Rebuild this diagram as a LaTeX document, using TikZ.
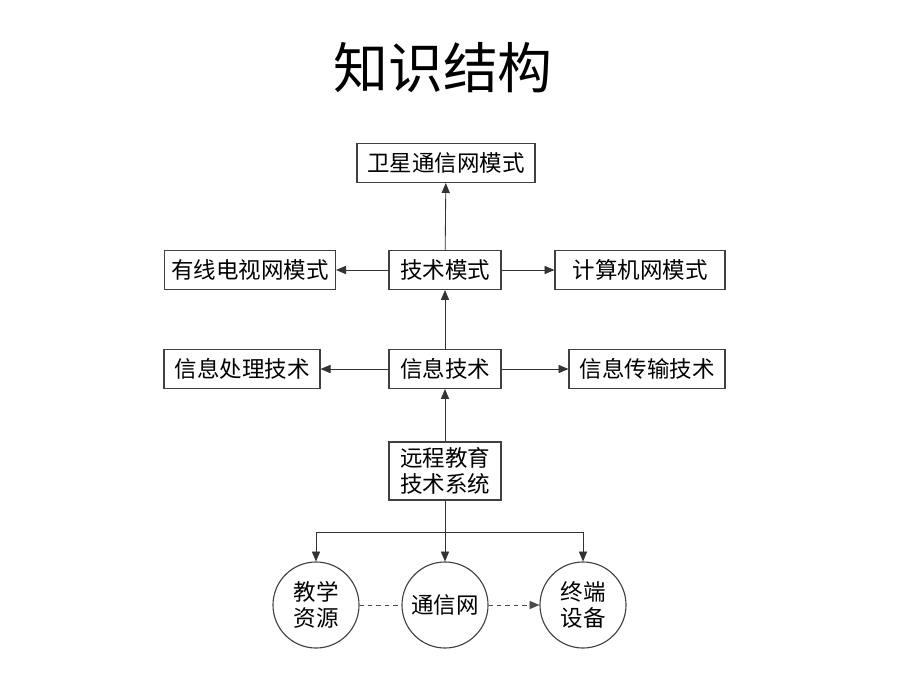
\documentclass[tikz,border=0pt]{standalone}
\usepackage{fontspec}
\setmainfont{Noto Sans CJK SC}
\usetikzlibrary{arrows}
\tikzset{
    box/.style={rectangle, draw=black!75, thick, minimum height=0.975cm, inner sep=0pt, font=\fontsize{16}{19}\selectfont},
    disc/.style={circle, draw=black!75, thick, minimum size=2.15cm, inner sep=0pt, align=center, font=\fontsize{16}{19}\selectfont},
    link/.style={draw=black!80, semithick, -triangle 45},
    flow/.style={draw=black!70, semithick, dashed}
}

\begin{document}
\begin{tikzpicture}
  [
    x = 0.025cm,
    y = -0.025cm,
  ]
  \useasboundingbox (0,0) rectangle (920,690);
  \node (title) at (443,68) {\fontsize{39}{44}\selectfont 知识结构};
  % boxes
  \node [box, minimum width=4.45cm]  (sat)   at (446,163) {卫星通信网模式};
  \node [box, minimum width=4.275cm] (cable) at (250,270) {有线电视网模式};
  \node [box, minimum width=2.8cm]   (mode)  at (445,270) {技术模式};
  \node [box, minimum width=4.25cm]  (comp)  at (640,270) {计算机网模式};
  \node [box, minimum width=3.9cm]   (proc)  at (242,369) {信息处理技术};
  \node [box, minimum width=2.8cm]   (info)  at (445,369) {信息技术};
  \node [box, minimum width=3.9cm]   (trans) at (647,369) {信息传输技术};
  \node [box, minimum width=2.8cm, minimum height=1.45cm, align=center] (sys) at (445,471) {远程教育\\技术系统};
  % circles
  \node [disc] (res)  at (316,605) {教学\\资源};
  \node [disc] (net)  at (445,605) {通信网};
  \node [disc] (term) at (583,605) {终端\\设备};
  \coordinate (fork) at (445,532);
  % connectors
  \draw [link] (mode) -- (sat);
  \draw [link] (mode) -- (cable);
  \draw [link] (mode) -- (comp);
  \draw [link] (info) -- (mode);
  \draw [link] (info) -- (proc);
  \draw [link] (info) -- (trans);
  \draw [link] (sys) -- (info);
  \draw [link] (sys) -- (net);
  \draw [link] (fork) -| (res);
  \draw [link] (fork) -| (term);
  \draw [flow] (res) -- (net);
  \draw [flow, -triangle 45] (net) -- (term);
\end{tikzpicture}
\end{document}
